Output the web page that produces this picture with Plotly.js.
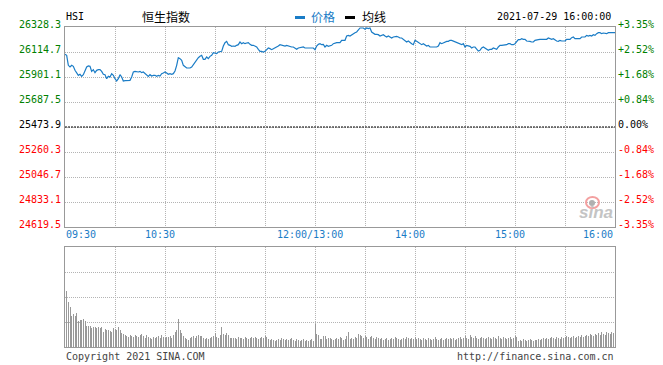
<!DOCTYPE html>
<html><head><meta charset="utf-8">
<script src="https://cdn.plot.ly/plotly-3.0.1.min.js"></script>
<style>html,body{margin:0;padding:0;background:#fff;}#chart{width:663px;height:365px;}</style>
</head><body><div id="chart"></div>
<script>
// ---------- data ----------
const symbol = "HSI";
const indexName = "恒生指数";
const stamp = "2021-07-29 16:00:00";
const prevClose = 25473.9;
const yTicks = [26328.3, 26114.7, 25901.1, 25687.5, 25473.9, 25260.3, 25046.7, 24833.1, 24619.5];
const pctTicks = ["+3.35%", "+2.52%", "+1.68%", "+0.84%", "0.00%", "-0.84%", "-1.68%", "-2.52%", "-3.35%"];
const xLabels = ["09:30", "10:30", "12:00/13:00", "14:00", "15:00", "16:00"];
const xLabelAt = ["09:30", "10:30", "12:00", "14:00", "15:00", "16:00"];
const gridTimes = ["10:00", "10:30", "11:00", "11:30", "12:00", "13:30", "14:00", "14:30", "15:00", "15:30"];
const sessions = [["09:30", "12:00"], ["13:01", "16:00"]];
// price, one value per trading minute from 09:30
const price = [
26094.8,26086.2,26000.8,25986.5,26000.8,25992.2,25958.1,25929.6,25915.3,25923.9,
25906.8,25921.0,25963.8,25986.5,25995.1,25992.2,25949.5,25963.8,25938.1,25958.1,
25963.8,25963.8,25949.5,25923.9,25921.0,25886.9,25906.8,25901.1,25929.6,25915.3,
25886.9,25866.9,25886.9,25921.0,25901.1,25866.9,25869.8,25869.8,25869.8,25872.6,
25901.1,25943.8,25949.5,25946.6,25943.8,25949.5,25938.1,25943.8,25929.6,25923.9,
25906.8,25921.0,25909.6,25915.3,25915.3,25906.8,25915.3,25909.6,25929.6,25935.3,
25943.8,25935.3,25923.9,25929.6,25923.9,25929.6,25952.4,26000.8,26066.3,26057.7,
26043.5,26000.8,25986.5,25978.0,25978.0,25978.0,25986.5,26009.3,26023.6,26043.5,
26066.3,26077.7,26086.2,26052.0,26052.0,26072.0,26057.7,26077.7,26086.2,26109.0,
26106.2,26100.5,26114.7,26120.4,26120.4,26166.0,26194.4,26205.8,26177.4,26171.7,
26163.1,26166.0,26163.1,26171.7,26177.4,26200.1,26185.9,26194.4,26185.9,26191.6,
26194.4,26180.2,26171.7,26171.7,26166.0,26157.4,26137.5,26120.4,26120.4,26114.7,
26120.4,26137.5,26148.9,26143.2,26134.6,26143.2,26148.9,26157.4,26166.0,26177.4,
26171.7,26171.7,26166.0,26171.7,26166.0,26163.1,26157.4,26157.4,26148.9,26137.5,
26148.9,26151.7,26148.9,26157.4,26148.9,26148.9,26143.2,26148.9,26143.2,26148.9,
26134.6,26166.0,26180.2,26185.9,26177.4,26180.2,26157.4,26171.7,26163.1,26166.0,
26171.7,26185.9,26191.6,26194.4,26194.4,26194.4,26214.4,26214.4,26214.4,26251.4,
26257.1,26251.4,26262.8,26271.3,26279.9,26285.6,26299.8,26319.8,26319.8,26319.8,
26308.4,26319.8,26314.1,26319.8,26285.6,26271.3,26265.6,26265.6,26262.8,26251.4,
26257.1,26262.8,26251.4,26242.9,26251.4,26242.9,26234.3,26242.9,26248.6,26248.6,
26242.9,26234.3,26234.3,26220.1,26208.7,26200.1,26208.7,26194.4,26185.9,26177.4,
26214.4,26205.8,26194.4,26185.9,26177.4,26185.9,26171.7,26166.0,26171.7,26157.4,
26157.4,26157.4,26157.4,26157.4,26166.0,26194.4,26185.9,26194.4,26200.1,26205.8,
26205.8,26214.4,26214.4,26208.7,26200.1,26194.4,26194.4,26185.9,26177.4,26185.9,
26157.4,26171.7,26166.0,26163.1,26148.9,26157.4,26157.4,26143.2,26123.2,26128.9,
26148.9,26157.4,26148.9,26143.2,26128.9,26137.5,26137.5,26148.9,26143.2,26137.5,
26157.4,26171.7,26171.7,26171.7,26171.7,26177.4,26185.9,26185.9,26177.4,26177.4,
26185.9,26208.7,26220.1,26220.1,26228.6,26222.9,26222.9,26208.7,26208.7,26205.8,
26200.1,26200.1,26214.4,26214.4,26220.1,26222.9,26222.9,26222.9,26222.9,26222.9,
26234.3,26228.6,26222.9,26228.6,26214.4,26208.7,26205.8,26214.4,26208.7,26205.8,
26208.7,26222.9,26222.9,26222.9,26237.2,26242.9,26228.6,26228.6,26228.6,26228.6,
26242.9,26242.9,26242.9,26257.1,26251.4,26257.1,26251.4,26262.8,26257.1,26271.3,
26279.9,26279.9,26271.3,26277.0,26277.0,26271.3,26279.9,26279.9,26279.9,26279.9,26279.9
];
// volume (relative units), one bar per minute from 09:31
const volume = [
56,45,40,31,33,31,34,26,27,27,28,26,21,21,21,19,20,20,19,20,19,20,15,18,17,17,16,15,19,18,17,20,17,14,13,12,
11,10,12,11,10,12,11,10,12,13,11,9,12,10,9,8,10,9,10,11,9,12,10,9,10,10,11,9,12,15,17,28,17,14,11,
9,8,7,9,10,11,9,11,12,11,11,9,8,9,8,9,10,11,14,
10,9,12,20,13,12,14,12,9,9,9,
9,8,10,9,9,8,10,9,8,9,10,9,10,9,8,9,10,9,11,10,
8,7,8,7,6,7,8,7,9,8,7,8,7,8,9,7,6,8,7,6,7,8,6,7,6,7,8,6,
23,13,12,8,8,11,11,8,9,
9,8,7,8,9,8,10,9,7,8,11,15,8,9,8,10,9,13,12,11,9,11,10,8,10,11,9,8,10,9,
8,9,7,8,9,7,8,9,8,10,9,8,7,8,9,8,10,9,8,9,8,10,8,9,8,7,9,8,7,9,8,7,8,10,8,7,8,
9,7,8,9,8,9,8,9,7,8,9,10,8,9,11,9,8,12,
10,9,11,9,8,9,10,9,8,9,10,9,8,10,9,8,11,9,8,10,9,8,9,10,8,9,11,10,
6,7,6,8,7,6,7,8,7,6,7,7,
8,7,8,9,8,9,8,9,10,9,8,10,9,8,10,9,
10,11,10,9,10,11,9,10,11,10,12,10,11,12,11,13,12,11,13,12,
14,12,15,13,12,15,14,13,15,14,15
];

// ---------- build ----------
function toMin(s){const p=s.split(":");return +p[0]*60+ +p[1];}
function toStr(m){const h=Math.floor(m/60),mm=m%60;return (h<10?"0":"")+h+":"+(mm<10?"0":"")+mm;}
const times=[];
sessions.forEach(s=>{for(let m=toMin(s[0]);m<=toMin(s[1]);m++)times.push(toStr(m));});
const volTimes = times.slice(1);

const W=663,H=365,L=65,R=615,T1=27,B1=227,T2=247,B2=347;
const mono="DejaVu Sans Mono, Liberation Mono, monospace";
const cjk="Noto Sans CJK SC, sans-serif";
const blue="#1a7cc6", green="#008000", red="#ff0000";
const py=v=>(H-v)/H, px=v=>v/W;

const traces=[
 {x:times.slice(0,price.length),y:price,type:"scatter",mode:"lines",line:{color:blue,width:1.2},xaxis:"x",yaxis:"y",hoverinfo:"skip"},
 {x:volTimes.slice(0,volume.length),y:volume,type:"bar",marker:{color:"#999999",line:{width:0}},width:0.6,xaxis:"x2",yaxis:"y2",hoverinfo:"skip"}
];

const ann=[];
yTicks.forEach((v,i)=>{
  const c=i<4?green:(i===4?"#000":red);
  ann.push({xref:"paper",yref:"y",x:px(62),y:v,xanchor:"right",yanchor:"middle",yshift:3,text:v.toFixed(1),showarrow:false,borderpad:0,font:{family:mono,size:10,color:c}});
  ann.push({xref:"paper",yref:"y",x:px(617),y:v,xanchor:"left",yanchor:"middle",yshift:3,text:pctTicks[i],showarrow:false,borderpad:0,font:{family:mono,size:10,color:c}});
});
xLabels.forEach((t,i)=>{
  let xa="center",xs=-5.5;
  if(i===0){xa="left";xs=0;}
  if(i===xLabels.length-1){xa="right";xs=-1;}
  ann.push({xref:"x",yref:"paper",x:xLabelAt[i],y:py(234.7),xanchor:xa,yanchor:"middle",xshift:xs,text:t,showarrow:false,borderpad:0,font:{family:mono,size:10,color:blue}});
});
ann.push({xref:"paper",yref:"paper",x:px(65),y:py(16.3),xanchor:"left",yanchor:"middle",text:symbol,showarrow:false,borderpad:0,font:{family:mono,size:10,color:"#000"}});
ann.push({xref:"paper",yref:"paper",x:px(141),y:py(16.5),xanchor:"left",yanchor:"middle",text:indexName,showarrow:false,borderpad:0,font:{family:cjk,size:12,color:"#000"}});
ann.push({xref:"paper",yref:"paper",x:px(310),y:py(16.5),xanchor:"left",yanchor:"middle",text:"价格",showarrow:false,borderpad:0,font:{family:cjk,size:12,color:blue}});
ann.push({xref:"paper",yref:"paper",x:px(361),y:py(16.5),xanchor:"left",yanchor:"middle",text:"均线",showarrow:false,borderpad:0,font:{family:cjk,size:12,color:"#000"}});
ann.push({xref:"paper",yref:"paper",x:px(612),y:py(16.3),xanchor:"right",yanchor:"middle",text:stamp,showarrow:false,borderpad:0,font:{family:mono,size:10,color:"#000"}});
ann.push({xref:"paper",yref:"paper",x:px(65),y:py(356),xanchor:"left",yanchor:"middle",text:"Copyright 2021 SINA.COM",showarrow:false,borderpad:0,font:{family:mono,size:10,color:"#444"}});
ann.push({xref:"paper",yref:"paper",x:px(615),y:py(356),xanchor:"right",yanchor:"middle",text:"http://finance.sina.com.cn",showarrow:false,borderpad:0,font:{family:mono,size:10,color:"#444"}});
ann.push({xref:"paper",yref:"paper",x:px(596),y:py(212.5),xanchor:"center",yanchor:"middle",text:"<b><i>sina</i></b>",showarrow:false,borderpad:0,font:{family:"Liberation Sans, Arial, sans-serif",size:17,color:"#c4c4c4"}});

const shapes=[
 {type:"line",xref:"paper",yref:"y",x0:px(L),x1:px(R),y0:prevClose,y1:prevClose,line:{color:"#000",width:1,dash:"2px,1px"}},
 {type:"rect",xref:"paper",yref:"paper",x0:px(295),x1:px(305),y0:py(19),y1:py(16),fillcolor:blue,line:{width:0}},
 {type:"rect",xref:"paper",yref:"paper",x0:px(345),x1:px(355),y0:py(19),y1:py(16),fillcolor:"#000",line:{width:0}},
 {type:"circle",xref:"paper",yref:"paper",x0:px(586),x1:px(599),y0:py(208),y1:py(197),fillcolor:"rgba(0,0,0,0)",line:{color:"#f3a0a0",width:2}},
 {type:"circle",xref:"paper",yref:"paper",x0:px(589),x1:px(595),y0:py(206),y1:py(200),fillcolor:"#b0b0b0",line:{width:0}}
];

const axCommon={type:"category",categoryorder:"array",categoryarray:times,range:[0,times.length-1],
  showline:true,linecolor:"#999",linewidth:1,mirror:true,showgrid:true,gridcolor:"#b4b4b4",griddash:"1px,1px",gridwidth:1,
  tickmode:"array",tickvals:gridTimes,showticklabels:false,ticks:"",zeroline:false,fixedrange:true};

const layout={
 width:W,height:H,margin:{l:0,r:0,t:0,b:0},paper_bgcolor:"#fff",plot_bgcolor:"#fff",showlegend:false,
 xaxis:Object.assign({},axCommon,{domain:[px(L),px(R)],anchor:"y"}),
 xaxis2:Object.assign({},axCommon,{domain:[px(L),px(R)],anchor:"y2"}),
 yaxis:{domain:[py(B1),py(T1)],range:[yTicks[yTicks.length-1],yTicks[0]],tickmode:"array",tickvals:yTicks,showticklabels:false,ticks:"",
   showline:true,linecolor:"#999",linewidth:1,mirror:true,showgrid:true,gridcolor:"#b4b4b4",griddash:"1px,1px",zeroline:false,fixedrange:true,anchor:"x"},
 yaxis2:{domain:[py(B2),py(T2)],range:[0,100],tickmode:"array",tickvals:[25,50,75],showticklabels:false,ticks:"",
   showline:true,linecolor:"#999",linewidth:1,mirror:true,showgrid:true,gridcolor:"#b4b4b4",griddash:"1px,1px",zeroline:false,fixedrange:true,anchor:"x2"},
 bargap:0,annotations:ann,shapes:shapes,font:{family:mono,size:10}
};
Plotly.newPlot("chart",traces,layout,{staticPlot:true,displayModeBar:false});
</script></body></html>
